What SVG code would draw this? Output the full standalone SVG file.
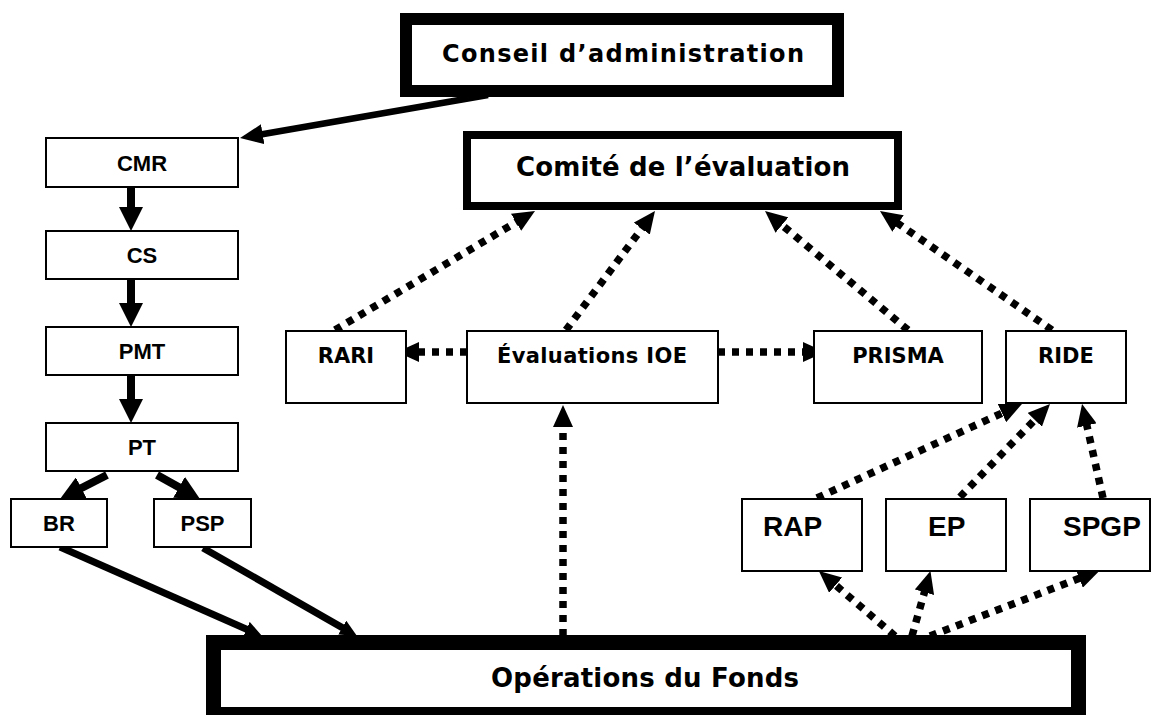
<svg xmlns="http://www.w3.org/2000/svg" width="1163" height="715" viewBox="0 0 1163 715">
<defs>
<style>
.bg{fill:#fff}
.box{fill:#fff;stroke:#000;stroke-width:2}
.t1{font-family:"Liberation Sans",Arial,sans-serif;font-weight:bold;font-size:22px;text-anchor:middle;fill:#000}
.t2{font-family:"DejaVu Sans",Verdana,sans-serif;font-weight:bold;font-size:21px;text-anchor:middle;fill:#000}
.t3{font-family:"Liberation Sans",Arial,sans-serif;font-weight:bold;font-size:28px;fill:#000}
.tb{font-family:"DejaVu Sans",Verdana,sans-serif;font-weight:bold;text-anchor:middle;fill:#000}
.solid{stroke:#000;fill:none;stroke-linecap:butt}
.dot{stroke:#000;fill:none;stroke-width:7.5;stroke-dasharray:7 7}
</style>
<marker id="hBig" markerUnits="userSpaceOnUse" markerWidth="24" markerHeight="24" refX="2" refY="12" orient="auto"><path d="M0,0 L24,12 L0,24 z" fill="#000"/></marker>
<marker id="hMid" markerUnits="userSpaceOnUse" markerWidth="23" markerHeight="20" refX="2" refY="10" orient="auto"><path d="M0,0 L23,10 L0,20 z" fill="#000"/></marker>
<marker id="hSm" markerUnits="userSpaceOnUse" markerWidth="17" markerHeight="16" refX="2" refY="8" orient="auto"><path d="M0,0 L17,8 L0,16 z" fill="#000"/></marker>
<marker id="hDot" markerUnits="userSpaceOnUse" markerWidth="22" markerHeight="20" refX="2" refY="10" orient="auto"><path d="M0,0 L22,10 L0,20 z" fill="#000"/></marker>
</defs>
<rect class="bg" x="0" y="0" width="1163" height="715"/>

<g id="connectors">
<line class="solid" stroke-width="6.5" x1="488" y1="95" x2="260.7" y2="134.5" marker-end="url(#hMid)"/>
<line class="solid" stroke-width="8" x1="131" y1="187" x2="131" y2="209" marker-end="url(#hBig)"/>
<line class="solid" stroke-width="8" x1="131" y1="279" x2="131" y2="305" marker-end="url(#hBig)"/>
<line class="solid" stroke-width="8" x1="131" y1="375" x2="131" y2="401" marker-end="url(#hBig)"/>
<line class="solid" stroke-width="8" x1="107" y1="475" x2="79.6" y2="489" marker-end="url(#hBig)"/>
<line class="solid" stroke-width="8" x1="157" y1="475" x2="180.8" y2="488.3" marker-end="url(#hBig)"/>
<line class="solid" stroke-width="7" x1="60" y1="547" x2="248.3" y2="630" marker-end="url(#hSm)"/>
<line class="solid" stroke-width="7" x1="203" y1="548" x2="344" y2="628.6" marker-end="url(#hSm)"/>

<line class="dot" x1="566" y1="330" x2="643" y2="227" marker-end="url(#hDot)"/>
<line class="dot" x1="335" y1="330" x2="517.8" y2="221.2" marker-end="url(#hDot)"/>
<line class="dot" x1="908" y1="330" x2="780.4" y2="223.8" marker-end="url(#hDot)"/>
<line class="dot" x1="1052" y1="330" x2="896.4" y2="222.4" marker-end="url(#hDot)"/>
<line class="dot" x1="467" y1="352" x2="417" y2="352" marker-end="url(#hDot)"/>
<line class="dot" x1="718" y1="352" x2="805" y2="352" marker-end="url(#hDot)"/>
<line class="dot" x1="563" y1="636" x2="563" y2="425" marker-end="url(#hDot)"/>
<line class="dot" x1="817" y1="498" x2="1003.8" y2="412.3" marker-end="url(#hDot)"/>
<line class="dot" x1="960" y1="497" x2="1036.1" y2="418.4" marker-end="url(#hDot)"/>
<line class="dot" x1="1103" y1="498" x2="1086.4" y2="423.5" marker-end="url(#hDot)"/>
<line class="dot" x1="895" y1="636" x2="834.1" y2="583.9" marker-end="url(#hDot)"/>
<line class="dot" x1="912" y1="636" x2="925" y2="590.3" marker-end="url(#hDot)"/>
<line class="dot" x1="930" y1="636" x2="1081.1" y2="577.6" marker-end="url(#hDot)"/>
</g>

<g id="conseil">
<rect x="406" y="19" width="432" height="72" fill="#fff" stroke="#000" stroke-width="12"/>
<text class="tb" x="623" y="62" font-size="24" textLength="362">Conseil d’administration</text>
</g>
<g id="comite">
<rect x="467" y="135" width="431" height="71" fill="#fff" stroke="#000" stroke-width="8"/>
<text class="tb" x="683" y="176" font-size="26" textLength="334">Comité de l’évaluation</text>
</g>
<g id="cmr"><rect class="box" x="46" y="138" width="192" height="49"/><text class="t1" x="142" y="171">CMR</text></g>
<g id="cs"><rect class="box" x="46" y="231" width="192" height="48"/><text class="t1" x="142" y="263">CS</text></g>
<g id="pmt"><rect class="box" x="46" y="327" width="192" height="48"/><text class="t1" x="142" y="359">PMT</text></g>
<g id="pt"><rect class="box" x="46" y="423" width="192" height="48"/><text class="t1" x="142" y="455">PT</text></g>
<g id="br"><rect class="box" x="11" y="499" width="96" height="48"/><text class="t1" x="59" y="531">BR</text></g>
<g id="psp"><rect class="box" x="154" y="499" width="97" height="48"/><text class="t1" x="202.5" y="531">PSP</text></g>

<g id="rari"><rect class="box" x="286" y="331" width="120" height="72"/><text class="t2" x="346" y="363">RARI</text></g>
<g id="eval"><rect class="box" x="467" y="331" width="251" height="72"/><text class="t2" x="592" y="363" textLength="190">Évaluations IOE</text></g>
<g id="prisma"><rect class="box" x="814" y="331" width="168" height="72"/><text class="t2" x="898" y="363">PRISMA</text></g>
<g id="ride"><rect class="box" x="1006" y="331" width="120" height="72"/><text class="t2" x="1066" y="363">RIDE</text></g>

<g id="rap"><rect class="box" x="742" y="499" width="120" height="72"/><text class="t3" x="763" y="536">RAP</text></g>
<g id="ep"><rect class="box" x="886" y="499" width="120" height="72"/><text class="t3" x="928" y="536">EP</text></g>
<g id="spgp"><rect class="box" x="1030" y="499" width="120" height="72"/><text class="t3" x="1063" y="536">SPGP</text></g>

<g id="operations">
<rect x="213.5" y="642.5" width="865" height="72" fill="#fff" stroke="#000" stroke-width="15"/>
<text class="tb" x="645" y="687" font-size="26" textLength="308">Opérations du Fonds</text>
</g>
</svg>
